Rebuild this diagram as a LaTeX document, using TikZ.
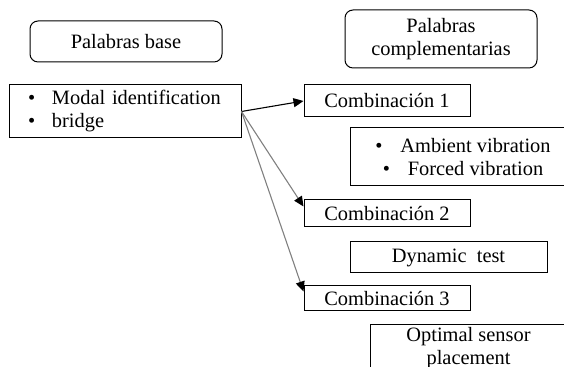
\documentclass[tikz,border=0pt]{standalone}
\usepackage{fontspec}
\setmainfont{Liberation Serif}
\usetikzlibrary{arrows.meta}

\tikzset{
	box/.style={draw, line width=.5pt, inner sep=0pt, align=center, font=\fontsize{10.2}{11.5}\selectfont},
	roundbox/.style={box, rounded corners=4pt},
	link/.style={line width=.55pt, -{Triangle[length=5pt,width=4.5pt,color=black]}}
}

\begin{document}
\begin{tikzpicture}[x=.5pt,y=-.5pt]
	\useasboundingbox (0,0) rectangle (564,367);
	\clip (0,0) rectangle (564,367);
	% titles
	\node[roundbox, minimum width=96pt, minimum height=20.5pt] (base) at (126,41.5) {Palabras base};
	\node[roundbox, minimum width=96pt, minimum height=29pt] (compl) at (441,39) {Palabras\\complementarias};
	% base words
	\node[box, minimum height=26.5pt, text width=97.5pt, inner xsep=9pt, align=left] (modal) at (125.5,111.5)
		{\makebox[12pt][l]{\textbullet}Modal identification\\\makebox[12pt][l]{\textbullet}bridge};
	% combinations
	\node[box, minimum width=83pt, minimum height=16pt] (comb1) at (387,101) {Combinaci\'on 1};
	\node[box, minimum width=83pt, minimum height=13.5pt] (comb2) at (387,213.5) {Combinaci\'on 2};
	\node[box, minimum width=83pt, minimum height=12.5pt] (comb3) at (387,298.5) {Combinaci\'on 3};
	% complementary words
	\node[box, minimum width=113pt, minimum height=29pt] (ambient) at (463,157)
		{\makebox[12.5pt][l]{\textbullet}Ambient vibration\\\makebox[12.5pt][l]{\textbullet}Forced vibration};
	\node[box, minimum width=98.5pt, minimum height=15.5pt] (dynamic) at (448.5,257.5) {Dynamic\ \ test};
	\node[box, minimum width=115pt, minimum height=37pt] (optimal) at (485,362) {};
	\node[box, draw=none, anchor=north] (optlbl) at (468.5,327) {Optimal sensor\\placement};
	% links
	\draw[link] (modal.east) -- (comb1.west);
	\draw[link, gray] (modal.east) -- ([yshift=-3.5pt]comb2.north west);
	\draw[link, gray] (modal.east) -- ([yshift=-3pt]comb3.north west);
\end{tikzpicture}
\end{document}
